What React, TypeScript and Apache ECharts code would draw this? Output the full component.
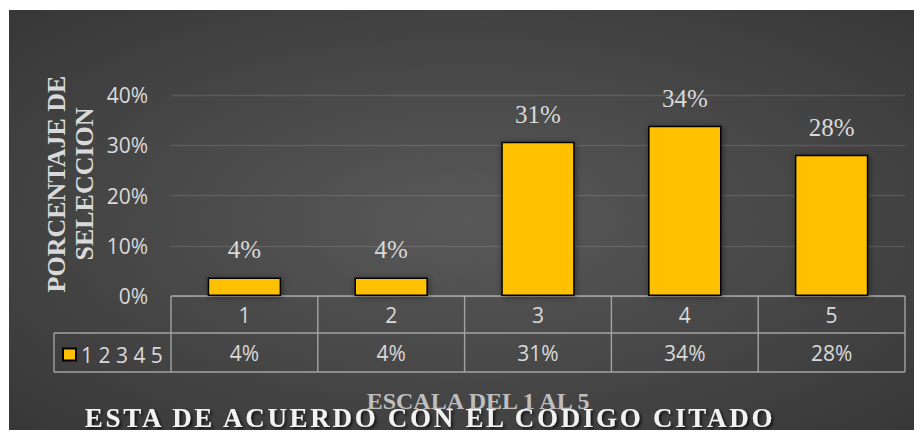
import React, { useEffect, useRef } from 'react';
import * as echarts from 'echarts';

const categories = ['1', '2', '3', '4', '5'];
const values = [0.037, 0.037, 0.307, 0.339, 0.281];
const yMin = 0;
const yMax = 0.4;
const yStep = 0.1;
const seriesName = '1 2 3 4 5';
const chartTitle = 'ESTA DE ACUERDO CON EL CODIGO CITADO';
const xTitle = 'ESCALA DEL 1 AL 5';
const yTitle = 'PORCENTAJE DE\nSELECCION';

const W = 913;
const H = 422;
const GL = 162;
const GT = 85;
const GW = 734;
const GH = 201;
const ROW1 = 37;
const ROW2 = 39;
const LEG_L = 45;

const SANS = "'Open Sans', 'Noto Sans', sans-serif";
const SERIF = "'Liberation Serif', 'DejaVu Serif', serif";
const pct = (v: number) => `${Math.round(v * 100)}%`;

export default function App() {
  const ref = useRef<HTMLDivElement>(null);
  useEffect(() => {
    if (!ref.current) return;
    const chart = echarts.init(ref.current, undefined, { renderer: 'svg' });
    const yAxisLine = GT + GH;
    const r1 = yAxisLine + ROW1;
    const r2 = r1 + ROW2;
    const lineStyle = { stroke: '#a3a3a3', lineWidth: 1.4 };
    const tableLines: any[] = [
      { type: 'line', shape: { x1: GL, y1: yAxisLine, x2: GL + GW, y2: yAxisLine }, style: lineStyle },
      { type: 'line', shape: { x1: LEG_L, y1: r1, x2: GL + GW, y2: r1 }, style: lineStyle },
      { type: 'line', shape: { x1: LEG_L, y1: r2, x2: GL + GW, y2: r2 }, style: lineStyle },
      { type: 'line', shape: { x1: LEG_L, y1: r1, x2: LEG_L, y2: r2 }, style: lineStyle },
    ];
    for (let i = 0; i <= categories.length; i++) {
      const x = GL + (i * GW) / categories.length;
      tableLines.push({ type: 'line', shape: { x1: x, y1: yAxisLine, x2: x, y2: r2 }, style: lineStyle });
    }
    chart.setOption({
      animation: false,
      backgroundColor: {
        type: 'radial',
        x: 0.5,
        y: 0.5,
        r: 1.1,
        colorStops: [
          { offset: 0, color: '#595959' },
          { offset: 1, color: '#242424' },
        ],
      },
      title: {
        text: chartTitle,
        left: 416,
        top: 389,
        textAlign: 'center',
        textStyle: {
          fontFamily: SERIF,
          fontWeight: 'bold',
          fontSize: 27,
          color: '#f2f2f2',
          textShadowColor: 'rgba(0,0,0,0.7)',
          textShadowBlur: 3,
          textShadowOffsetX: 2,
          textShadowOffsetY: 2,
        },
      },
      legend: {
        left: 48,
        top: 329,
        itemWidth: 13,
        itemHeight: 12,
        icon: 'rect',
        data: [seriesName],
        textStyle: { fontFamily: SANS, fontSize: 21, color: '#d9d9d9' },
      },
      grid: { left: GL, top: GT, width: GW, height: GH, containLabel: false },
      xAxis: [
        {
          type: 'category',
          data: categories,
          position: 'bottom',
          axisLine: { show: false },
          axisTick: { show: false },
          axisLabel: {
            margin: 19,
            verticalAlign: 'middle',
            fontFamily: SANS,
            fontSize: 21,
            color: '#d9d9d9',
          },
        },
        {
          type: 'category',
          data: categories,
          position: 'bottom',
          offset: 0,
          axisLine: { show: false },
          axisTick: { show: false },
          axisLabel: {
            margin: 57,
            verticalAlign: 'middle',
            fontFamily: SANS,
            fontSize: 21,
            color: '#d9d9d9',
            formatter: (_v: string, idx: number) => pct(values[idx]),
          },
        },
      ],
      yAxis: {
        type: 'value',
        min: yMin,
        max: yMax,
        interval: yStep,
        axisLine: { show: false },
        axisTick: { show: false },
        splitLine: { lineStyle: { color: 'rgba(255,255,255,0.11)', width: 1.3 } },
        axisLabel: {
          margin: 23,
          fontFamily: SANS,
          fontSize: 21,
          color: '#d9d9d9',
          formatter: (v: number) => pct(v),
        },
      },
      series: [
        {
          name: seriesName,
          type: 'bar',
          data: values,
          barWidth: '50%',
          itemStyle: {
            color: '#FFC000',
            borderColor: '#000000',
            borderWidth: 1.5,
            shadowColor: 'rgba(0,0,0,0.45)',
            shadowBlur: 6,
            shadowOffsetX: 1,
            shadowOffsetY: 1,
          },
          label: {
            show: true,
            position: 'top',
            distance: 15,
            fontFamily: SERIF,
            fontSize: 25,
            color: '#d9d9d9',
            formatter: (p: any) => pct(p.value),
          },
        },
      ],
      graphic: [
        ...tableLines,
        {
          type: 'text',
          x: 61,
          y: 174,
          rotation: Math.PI / 2,
          style: {
            text: yTitle,
            font: `bold 26px ${SERIF}`,
            fill: '#d9d9d9',
            align: 'center',
            verticalAlign: 'middle',
            lineHeight: 28,
            shadowColor: 'rgba(0,0,0,0.5)',
            shadowBlur: 2,
            shadowOffsetX: 1,
            shadowOffsetY: 1,
          },
        },
        {
          type: 'text',
          x: 469,
          y: 391,
          style: {
            text: xTitle,
            font: `bold 24px ${SERIF}`,
            fill: '#bfbfbf',
            align: 'center',
            verticalAlign: 'middle',
            shadowColor: 'rgba(0,0,0,0.5)',
            shadowBlur: 2,
            shadowOffsetX: 1,
            shadowOffsetY: 1,
          },
        },
      ],
    });
    // Excel-style letter spacing for the main title
    ref.current.querySelectorAll('text').forEach((t) => {
      if (t.textContent === chartTitle) t.setAttribute('letter-spacing', '2.7');
    });
    return () => chart.dispose();
  }, []);
  return (
    <div
      ref={ref}
      style={{ position: 'relative', left: 1, top: 2, width: W, height: H }}
    />
  );
}
